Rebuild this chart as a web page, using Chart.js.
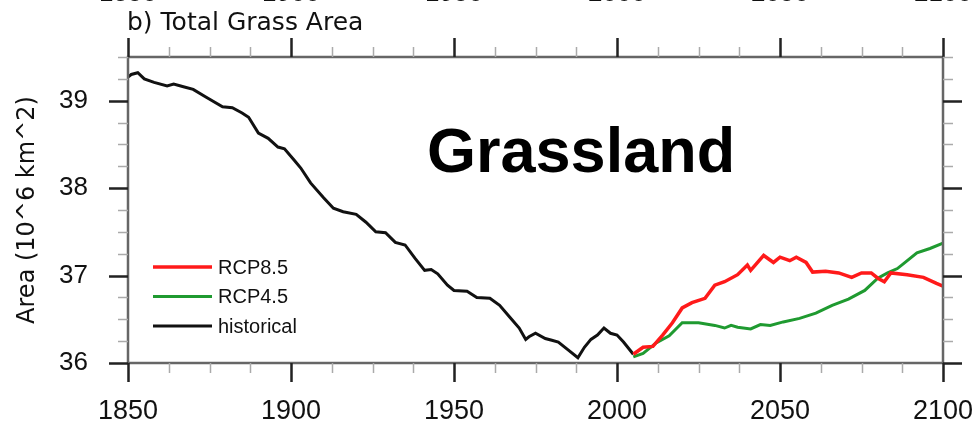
<!DOCTYPE html>
<html>
<head>
<meta charset="utf-8">
<script src="https://cdn.jsdelivr.net/npm/chart.js@4.4.1/dist/chart.umd.min.js"></script>
<style>
body { margin: 0; background: #fff; }
#wrap { position: relative; width: 977px; height: 428px; overflow: hidden; }
#title { position: absolute; left: 127px; top: 9px; font: 25px/25px "DejaVu Sans"; color: #111; white-space: nowrap; }
#tag { position: absolute; left: 427px; top: 119px; font: bold 63px/63px "Liberation Sans"; color: #000; white-space: nowrap; }
</style>
</head>
<body>
<div id="wrap">
  <canvas id="chart" width="977" height="428"></canvas>
  <div id="title">b) Total Grass Area</div>
  <div id="tag">Grassland</div>
</div>
<script>
// valores (area em 10^6 km^2)
const histYears = [1850, 1851, 1853, 1855, 1858, 1862, 1864, 1867, 1870, 1874, 1879, 1882, 1885, 1887, 1890, 1893, 1896, 1898,
  1901, 1903, 1906, 1910, 1913, 1916, 1920, 1923, 1926, 1929, 1932, 1935, 1938, 1941, 1943, 1945, 1948, 1950,
  1954, 1957, 1961, 1964, 1967, 1970, 1972, 1973, 1975, 1978, 1980, 1982, 1985, 1988, 1990, 1992, 1994,
  1996, 1998, 2000, 2002, 2005];
const histArea = [39.27, 39.30, 39.32, 39.25, 39.21, 39.17, 39.19, 39.16, 39.13, 39.04, 38.93, 38.92, 38.86, 38.81, 38.63, 38.57, 38.47, 38.45,
  38.32, 38.23, 38.06, 37.89, 37.77, 37.73, 37.70, 37.61, 37.50, 37.49, 37.38, 37.35, 37.20, 37.06, 37.07, 37.02, 36.89, 36.83,
  36.82, 36.75, 36.74, 36.66, 36.53, 36.40, 36.27, 36.30, 36.34, 36.28, 36.26, 36.24, 36.15, 36.06, 36.18, 36.27, 36.32,
  36.40, 36.34, 36.32, 36.24, 36.10];

const rcp85Years = [2005, 2008, 2011, 2014, 2017, 2020, 2023, 2027, 2030, 2033, 2037, 2040, 2041, 2045, 2048, 2050,
  2053, 2055, 2058, 2060, 2064, 2068, 2072, 2075, 2078, 2080, 2082, 2084, 2089, 2094, 2098, 2100];
const rcp85Area = [36.10, 36.18, 36.19, 36.32, 36.46, 36.63, 36.69, 36.74, 36.89, 36.93, 37.01, 37.12, 37.06, 37.23, 37.15, 37.21,
  37.17, 37.21, 37.15, 37.04, 37.05, 37.03, 36.98, 37.03, 37.03, 36.97, 36.93, 37.03, 37.01, 36.98, 36.91, 36.88];

const rcp45Years = [2005, 2008, 2012, 2016, 2020, 2025, 2030, 2033, 2035, 2037, 2041, 2044, 2047, 2051, 2056, 2061,
  2066, 2071, 2076, 2080, 2083, 2086, 2088, 2092, 2096, 2100];
const rcp45Area = [36.07, 36.11, 36.23, 36.31, 36.46, 36.46, 36.43, 36.40, 36.43, 36.41, 36.39, 36.44, 36.43, 36.47, 36.51, 36.57,
  36.66, 36.73, 36.83, 36.97, 37.03, 37.08, 37.14, 37.26, 37.31, 37.37];

const xTicks = [1850, 1900, 1950, 2000, 2050, 2100];
const yTicks = [36, 37, 38, 39];

const toPoints = (xs, ys) => xs.map((x, i) => ({ x, y: ys[i] }));

// moldura e marcas de escala (maiores e menores) nos quatro lados
const framePlugin = {
  id: 'frame',
  afterDraw(chart) {
    const { ctx, chartArea: a, scales: { x, y } } = chart;
    ctx.save();
    ctx.strokeStyle = '#666';
    ctx.lineWidth = 2.5;
    ctx.strokeRect(a.left, a.top, a.right - a.left, a.bottom - a.top);

    for (let v = x.min; v <= x.max + 0.01; v += 12.5) {
      const major = v % 50 === 0;
      const px = Math.round(x.getPixelForValue(v)) + 0.5;
      const len = major ? 19 : 10;
      ctx.strokeStyle = major ? '#222' : '#aaa';
      ctx.lineWidth = major ? 2.5 : 1.5;
      ctx.beginPath();
      ctx.moveTo(px, a.bottom); ctx.lineTo(px, a.bottom + len);
      ctx.moveTo(px, a.top); ctx.lineTo(px, a.top - len);
      ctx.stroke();
    }
    for (let v = y.min; v <= y.max + 0.001; v += 0.25) {
      const major = Math.abs(v - Math.round(v)) < 0.001;
      const py = Math.round(y.getPixelForValue(v)) + 0.5;
      const len = major ? 19 : 10;
      ctx.strokeStyle = major ? '#222' : '#aaa';
      ctx.lineWidth = major ? 2.5 : 1.5;
      ctx.beginPath();
      ctx.moveTo(a.left, py); ctx.lineTo(a.left - len, py);
      ctx.moveTo(a.right, py); ctx.lineTo(a.right + len, py);
      ctx.stroke();
    }

    // legenda dentro da area do grafico
    ctx.font = '20px "Liberation Sans"';
    ctx.textBaseline = 'middle';
    ctx.textAlign = 'left';
    chart.data.datasets.forEach((ds, i) => {
      const ly = 267 + i * 29.5;
      ctx.strokeStyle = ds.borderColor;
      ctx.lineWidth = ds.borderWidth;
      ctx.beginPath();
      ctx.moveTo(153, ly); ctx.lineTo(212, ly);
      ctx.stroke();
      ctx.fillStyle = '#111';
      ctx.fillText(ds.label, 218, ly + 1);
    });
    ctx.restore();
  }
};

const tickFont = { family: 'Liberation Sans', size: 26 };

// sem folga automatica para os rotulos das pontas
const fixX = h => s => { s.height = h; s.paddingLeft = 0; s.paddingRight = 0; };

new Chart(document.getElementById('chart'), {
  type: 'line',
  data: {
    datasets: [
      { label: 'RCP8.5', data: toPoints(rcp85Years, rcp85Area), borderColor: '#ff1a1a', borderWidth: 3.5 },
      { label: 'RCP4.5', data: toPoints(rcp45Years, rcp45Area), borderColor: '#1f9a30', borderWidth: 3 },
      { label: 'historical', data: toPoints(histYears, histArea), borderColor: '#111111', borderWidth: 3 }
    ]
  },
  options: {
    responsive: false,
    animation: false,
    devicePixelRatio: 1,
    layout: { padding: 0 },
    elements: { point: { radius: 0 }, line: { tension: 0 } },
    plugins: { legend: { display: false }, tooltip: { enabled: false } },
    scales: {
      x: {
        type: 'linear', position: 'bottom', min: 1850, max: 2100,
        afterBuildTicks: s => { s.ticks = xTicks.map(v => ({ value: v })); },
        ticks: { font: { family: 'Liberation Sans', size: 27 }, color: '#111', padding: 32, maxRotation: 0, autoSkip: false, callback: v => String(v) },
        grid: { display: false, drawTicks: false },
        border: { display: false },
        afterFit: fixX(65)
      },
      xTop: {
        type: 'linear', position: 'top', min: 1850, max: 2100,
        afterBuildTicks: s => { s.ticks = xTicks.map(v => ({ value: v })); },
        ticks: { font: tickFont, color: '#111', padding: 48, maxRotation: 0, autoSkip: false, callback: v => String(v) },
        grid: { display: false, drawTicks: false },
        border: { display: false },
        afterFit: fixX(57)
      },
      y: {
        position: 'left', min: 36, max: 39.5,
        afterBuildTicks: s => { s.ticks = yTicks.map(v => ({ value: v })); },
        ticks: { font: tickFont, color: '#111', padding: 40, callback: v => String(v) },
        grid: { display: false, drawTicks: false },
        border: { display: false },
        title: { display: true, text: 'Area (10^6 km^2)', color: '#111', font: { family: 'DejaVu Sans', size: 24 }, padding: { top: 13, bottom: 0 } },
        afterFit: s => { s.width = 128; s.paddingTop = 0; s.paddingBottom = 0; }
      },
      yRight: {
        position: 'right', min: 36, max: 39.5,
        ticks: { display: false },
        grid: { display: false, drawTicks: false },
        border: { display: false },
        afterFit: s => { s.width = 34; s.paddingTop = 0; s.paddingBottom = 0; }
      }
    }
  },
  plugins: [framePlugin]
});
</script>
</body>
</html>
